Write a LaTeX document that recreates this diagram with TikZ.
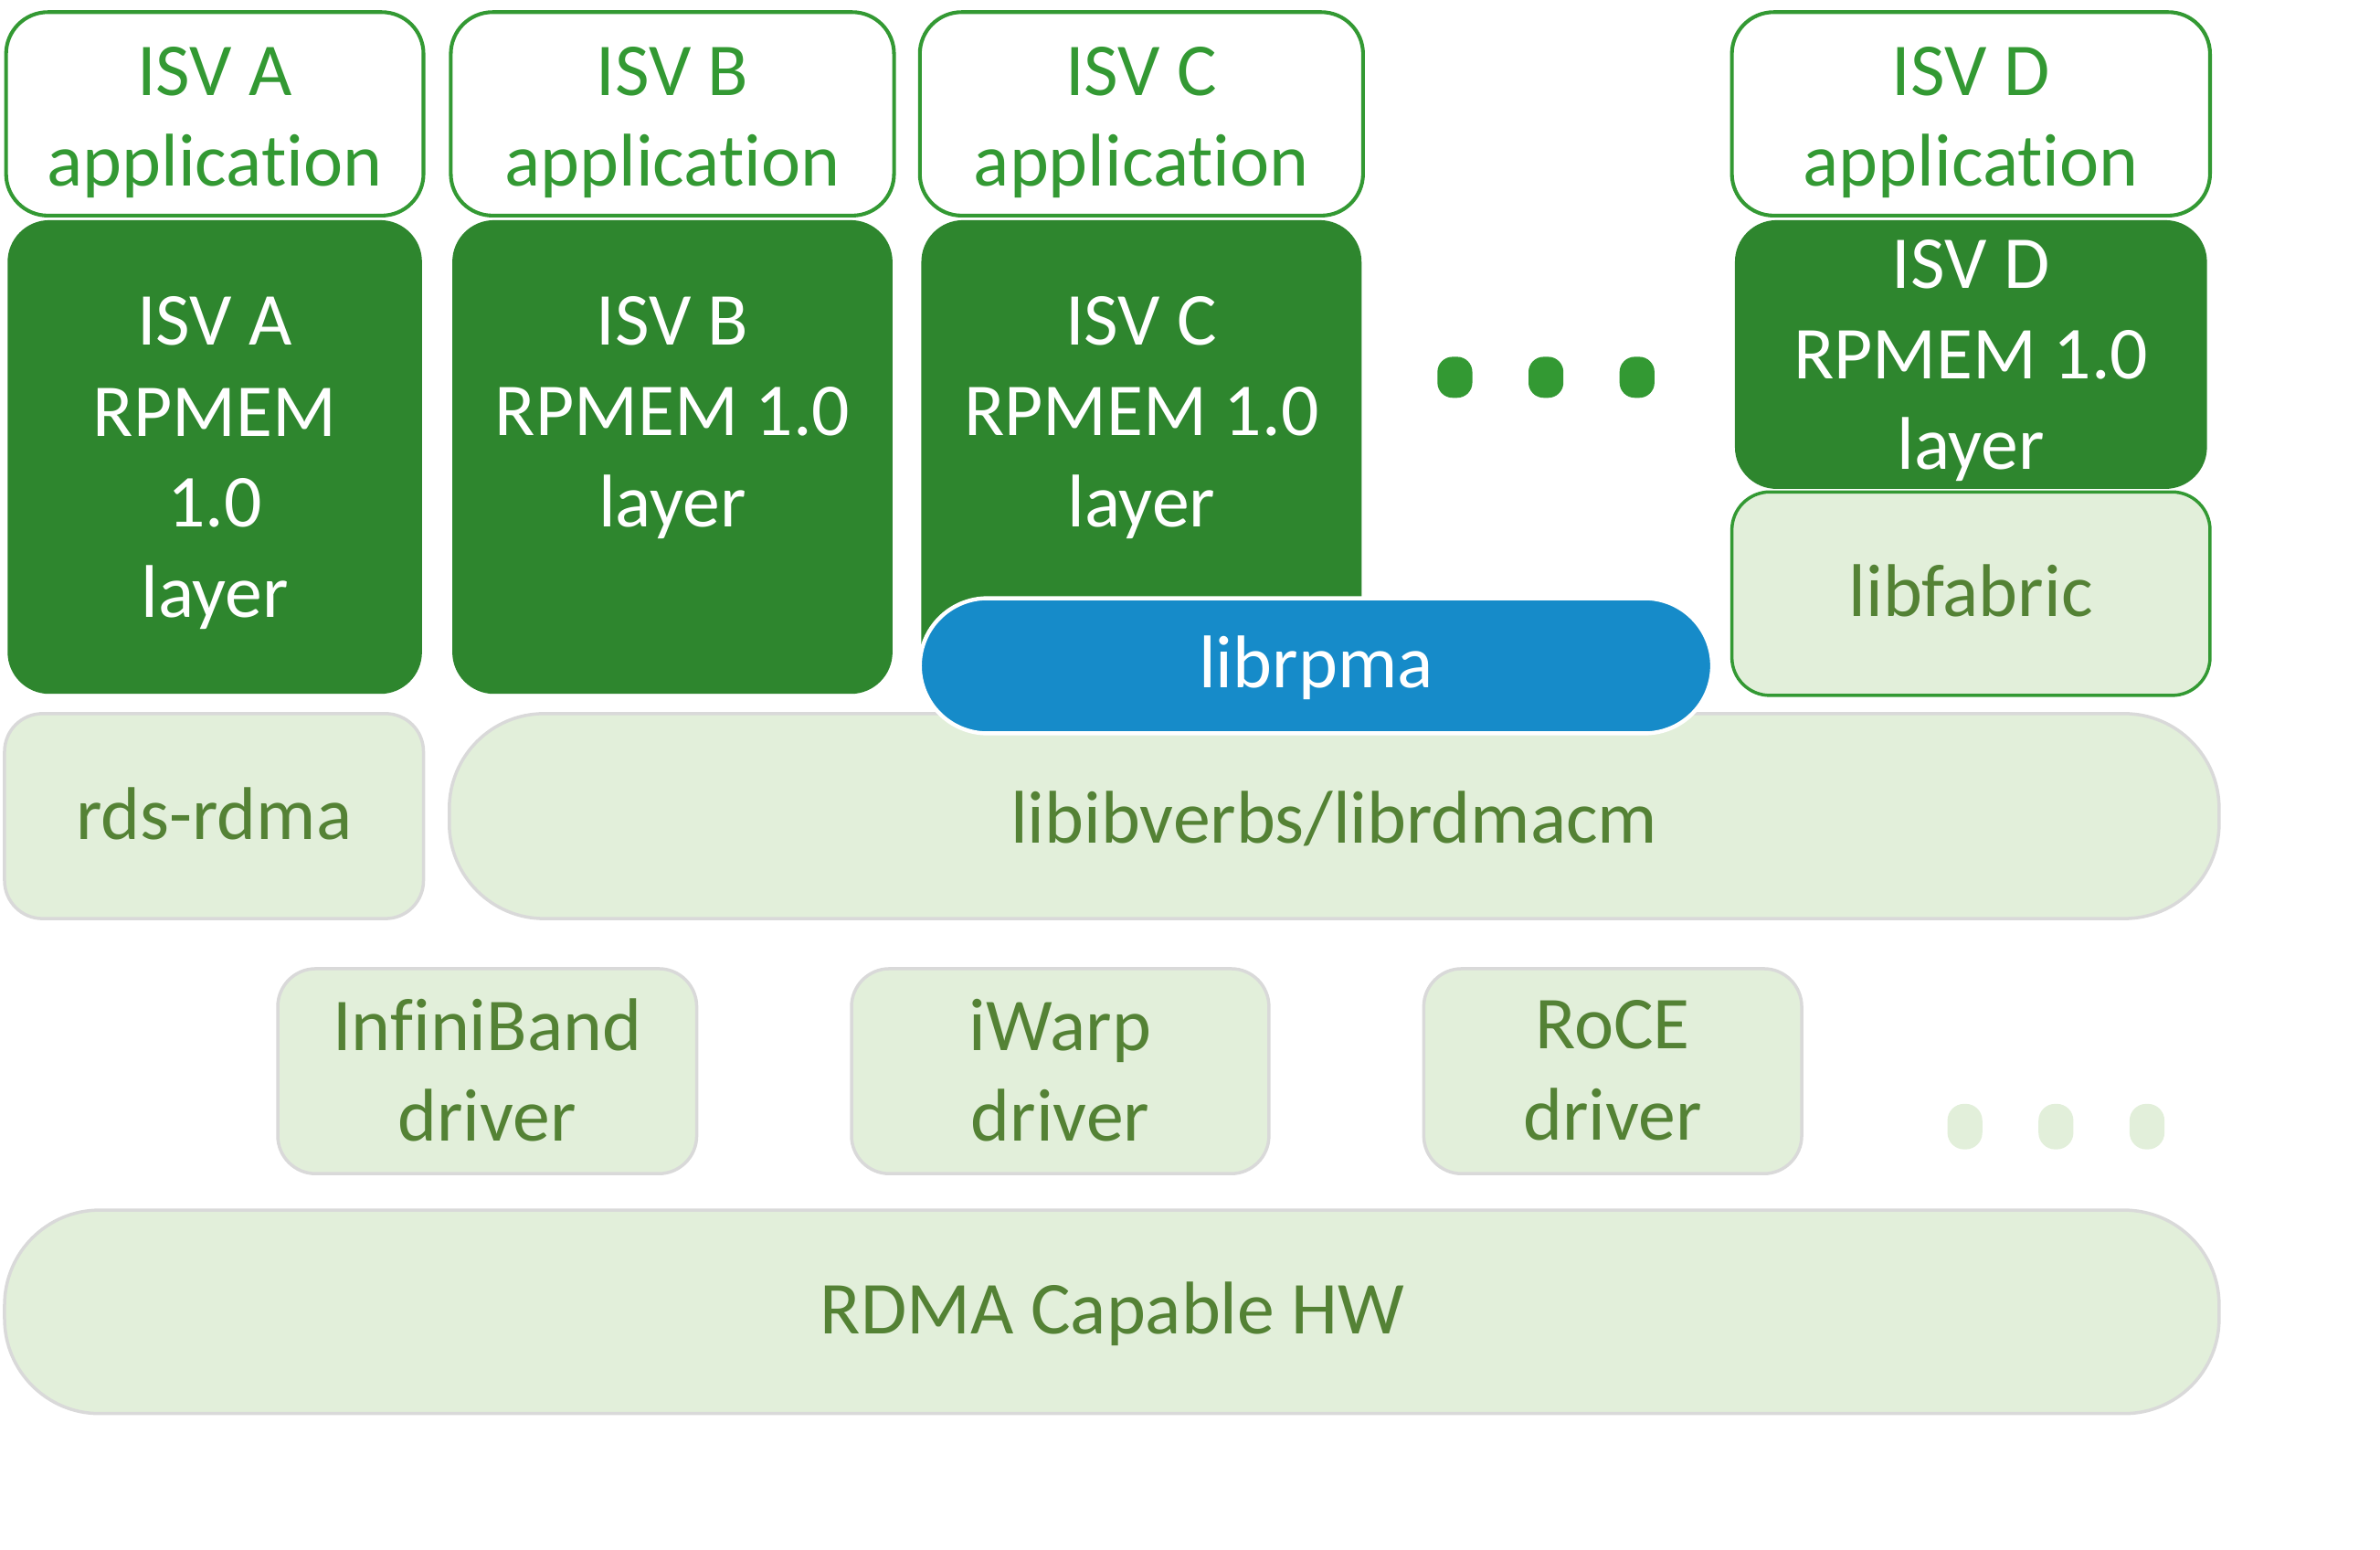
\documentclass[tikz,border=0pt]{standalone}
\usepackage{fontspec}
\setmainfont{Carlito}[Ligatures=NoCommon]
\usepackage{tikz}
\definecolor{appgreen}{HTML}{339933}
\definecolor{layergreen}{HTML}{2E862E}
\definecolor{libfill}{HTML}{E2EFDA}
\definecolor{libtext}{HTML}{548235}
\definecolor{libline}{HTML}{D9D9D9}
\definecolor{rpmablue}{HTML}{168BC9}
\def\dotrow[#1](#2,#3:#4){\foreach \k in {0,1,2} {\fill[#1] (#2+\k*60, #3) rectangle ++(23, #4);}}
\tikzset{
	appbox/.style={draw=appgreen, line width=1.4pt, fill=white, rounded corners=0.55cm},
	layerbox/.style={fill=layergreen, rounded corners=0.55cm},
	libbox/.style={draw=libline, line width=1.2pt, fill=libfill, rounded corners=0.5cm},
	txt/.style={font=\fontsize{28}{34}\selectfont, align=center, inner sep=0pt},
}

\begin{document}
\begin{tikzpicture}[x=0.02cm, y=-0.02cm]
			%%%%% START %%%%%
			\useasboundingbox (0, 0) rectangle (1568, 1020.3);
			
			% applications
			\draw[appbox] (4, 8) rectangle (279, 142);
			\node[txt, text=appgreen] (appA) at (141.5, 80.5) {ISV A\\application};
			\draw[appbox] (297, 8) rectangle (589, 142);
			\node[txt, text=appgreen] (appB) at (443, 80.5) {ISV B\\application};
			\draw[appbox] (606, 8) rectangle (898, 142);
			\node[txt, text=appgreen] (appC) at (752, 80.5) {ISV C\\application};
			\draw[appbox] (1141, 8) rectangle (1456, 142);
			\node[txt, text=appgreen] (appD) at (1298.5, 80.5) {ISV D\\application};
			
			% RPMEM layers
			\fill[layerbox] (5, 145) rectangle (278, 457);
			\node[txt, text=white] (rpmemA) at (141.5, 305) {ISV A\\RPMEM\\1.0\\layer};
			\fill[layerbox] (298, 145) rectangle (588, 457);
			\node[txt, text=white] (rpmemB) at (443, 275) {ISV B\\RPMEM 1.0\\layer};
			\fill[layerbox] (607, 145) rectangle (897, 457);
			\node[txt, text=white] (rpmemC) at (752, 275) {ISV C\\RPMEM 1.0\\layer};
			\fill[layerbox] (1143, 145) rectangle (1454, 322);
			\node[txt, text=white] (rpmemD) at (1298.5, 237.5) {ISV D\\RPMEM 1.0\\layer};
			
			\dotrow[appgreen, rounded corners=0.2cm](947,235:27)
			
			\draw[libbox, draw=appgreen] (1141, 324) rectangle (1456, 458);
			\node[txt, text=libtext] (libfabric) at (1298.5, 389) {libfabric};
			
			% verbs
			\draw[libbox] (3, 470) rectangle (279, 605);
			\node[txt, text=libtext] (rds) at (141, 536) {rds-rdma};
			\draw[libbox, rounded corners=1.25cm] (296, 470) rectangle (1462, 605);
			\node[txt, text=libtext] (verbs) at (879, 539) {libibverbs/librdmacm};
			
			\draw[fill=rpmablue, draw=white, line width=1.5pt, rounded corners=0.89cm] (606, 394) rectangle (1128, 483);
			\node[txt, text=white] (librpma) at (867, 440) {librpma};
			
			% drivers
			\draw[libbox] (183, 638) rectangle (459, 773);
			\node[txt, text=libtext] (ib) at (321, 705) {InfiniBand\\driver};
			\draw[libbox] (561, 638) rectangle (836, 773);
			\node[txt, text=libtext] (iwarp) at (698.5, 705) {iWarp\\driver};
			\draw[libbox] (938, 638) rectangle (1187, 773);
			\node[txt, text=libtext] (roce) at (1062.5, 705) {RoCE\\driver};
			
			\dotrow[libfill, rounded corners=0.22cm](1283,727:30)
			
			\draw[libbox, rounded corners=1.25cm] (3, 797) rectangle (1462, 931);
			\node[txt, text=libtext] (hw) at (733, 865.5) {RDMA Capable HW};
			%%%%% END %%%%%
		\end{tikzpicture}
\end{document}
